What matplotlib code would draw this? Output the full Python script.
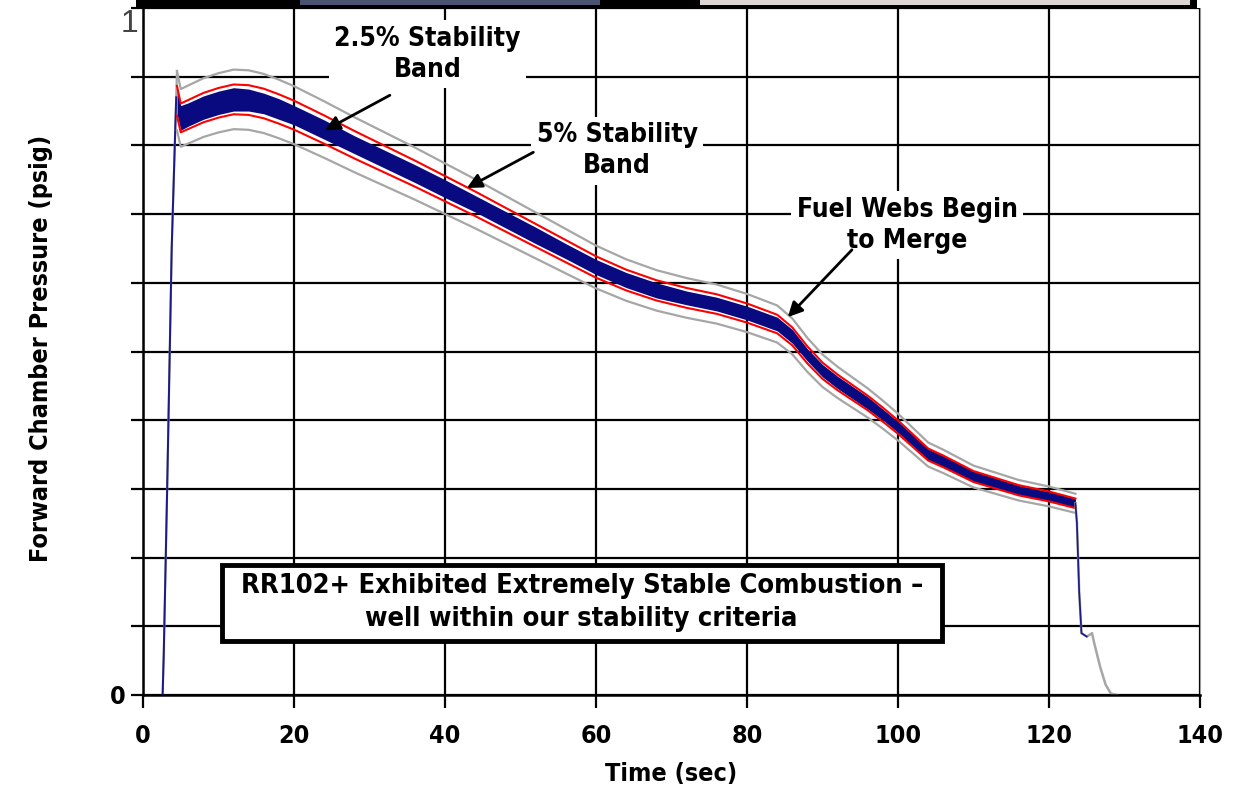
import matplotlib
matplotlib.use("Agg")
import matplotlib.pyplot as plt
from matplotlib.patches import Rectangle
import numpy as np

# start-up rise (sec, normalised pressure)
t_rise = [2.6, 2.75, 3.2, 3.8, 4.4]
p_rise = [0.0, 0.06, 0.30, 0.65, 0.87]

# steady burn: mean pressure trace and half-width of the noisy blue trace
t_burn = [4.5, 5.0, 6, 8, 10, 12, 14, 16, 18, 20, 24, 28, 32, 36, 40, 44, 48,
          52, 56, 60, 64, 68, 72, 76, 80, 84, 86, 88, 90, 92, 94, 96, 98, 100,
          102, 104, 106, 110, 116, 120, 123.5]
p_burn = [0.865, 0.840, 0.845, 0.855, 0.862, 0.867, 0.866, 0.861, 0.853, 0.844,
          0.823, 0.801, 0.780, 0.759, 0.737, 0.715, 0.692, 0.669, 0.646, 0.623,
          0.604, 0.589, 0.578, 0.569, 0.556, 0.540, 0.522, 0.495, 0.472, 0.455,
          0.440, 0.425, 0.408, 0.390, 0.370, 0.350, 0.340, 0.318, 0.298, 0.289,
          0.279]
noise = [0.019, 0.018, 0.017, 0.017, 0.017, 0.017, 0.016, 0.015, 0.015, 0.014,
         0.014, 0.013, 0.013, 0.013, 0.013, 0.012, 0.012, 0.012, 0.011, 0.011,
         0.011, 0.011, 0.010, 0.010, 0.010, 0.010, 0.010, 0.009, 0.009, 0.009,
         0.009, 0.009, 0.008, 0.008, 0.008, 0.008, 0.008, 0.008, 0.007, 0.007,
         0.007]

# tail-off after burnout
t_tail = [123.5, 123.7, 124.0, 124.3, 125.0, 125.7, 126.0, 126.8, 127.5, 128.2, 129.0]
p_tail = [0.279, 0.25, 0.15, 0.09, 0.085, 0.09, 0.075, 0.04, 0.015, 0.002, 0.0]

band_small = 0.025
band_large = 0.05

t_b = np.array(t_burn)
p_b = np.array(p_burn)
n_b = np.array(noise)

F = dict(family='DejaVu Sans', fontstretch='condensed', fontweight='bold')

fig = plt.figure(figsize=(12.47, 7.96), dpi=100)
ax = fig.add_axes([143 / 1247, 1 - 695 / 796, 1057 / 1247, 687 / 796])

ax.set_xlim(0, 140)
ax.set_ylim(0, 1)

# grid
ax.set_xticks(np.arange(0, 141, 20))
ax.set_yticks([0, 1])
ax.set_yticks(np.arange(0.1, 1.0, 0.1), minor=True)
ax.grid(True, which='both', color='black', lw=1.6)
ax.set_axisbelow(True)

# traces
gray = '#a6a6a6'
ax.plot(t_rise + t_burn[:1], p_rise + [p_burn[0] * (1 + band_large)], color=gray, lw=1.6)
ax.plot(t_rise, p_rise, color='#1a1a8a', lw=1.4)
ax.plot(t_b, p_b * (1 + band_large), color=gray, lw=1.6)
ax.plot(t_b, p_b * (1 - band_large), color=gray, lw=1.6)
ax.fill_between(t_b, p_b - n_b, p_b + n_b, color='#0a0a80', lw=0)
ax.plot(t_b, p_b * (1 + band_small), color='red', lw=1.5)
ax.plot(t_b, p_b * (1 - band_small), color='red', lw=1.5)
ax.plot(t_tail, p_tail, color=gray, lw=1.8)
ax.plot(t_tail[:5], p_tail[:5], color='#1a1a8a', lw=1.2)

# axes styling
ax.spines['top'].set_visible(False)
ax.spines['right'].set_color('#9a9a9a')
ax.spines['left'].set_linewidth(1.8)
ax.spines['bottom'].set_linewidth(1.8)
ax.tick_params(axis='both', which='both', direction='out', length=9, width=1.6)
ax.tick_params(axis='x', pad=12)
ax.set_xticklabels([str(v) for v in range(0, 141, 20)], fontsize=18, **F)
ax.set_yticklabels(['0', ''], fontsize=18, **F)
ax.text(-0.6, 0.977, '1', ha='right', va='center', fontsize=23, color='#444444',
        family=['Liberation Sans', 'DejaVu Sans'])

ax.set_xlabel('Time (sec)', fontsize=18, labelpad=10, **F)
ax.set_ylabel('Forward Chamber Pressure (psig)', fontsize=18, **F)
ax.yaxis.set_label_coords(-0.085, 0.505)

# annotations
txt = dict(fontsize=19, ha='center', va='center', linespacing=1.25,
           bbox=dict(fc='white', ec='none', pad=4), **F)
arrow = dict(arrowstyle='-|>', color='black', lw=2, mutation_scale=22, shrinkA=0, shrinkB=0)

ax.text(37.7, 0.933, '2.5% Stability\nBand', **txt)
ax.annotate('', xy=(24.1, 0.822), xytext=(32.7, 0.873), arrowprops=arrow)
ax.text(62.8, 0.792, '5% Stability\nBand', **txt)
ax.annotate('', xy=(42.9, 0.738), xytext=(51.7, 0.790), arrowprops=arrow)
ax.text(101.2, 0.684, 'Fuel Webs Begin\nto Merge', **txt)
ax.annotate('', xy=(85.4, 0.550), xytext=(93.9, 0.648), arrowprops=arrow)

ax.add_patch(Rectangle((10.5, 0.079), 95.3, 0.110, fc='white', ec='black', lw=3.5, zorder=3))
ax.text(58.1, 0.134, 'RR102+ Exhibited Extremely Stable Combustion \u2013\n'
        'well within our stability criteria', fontsize=19.5, ha='center',
        va='center', linespacing=1.35, zorder=4, **F)

# cropped legend strip along the top edge
fig.patches.append(Rectangle((136 / 1247, 1 - 9 / 796), 1061 / 1247, 9 / 796,
                             transform=fig.transFigure, fc='black', ec='none'))
fig.patches.append(Rectangle((300 / 1247, 1 - 5 / 796), 300 / 1247, 5 / 796,
                             transform=fig.transFigure, fc='#4a5470', ec='none'))
fig.patches.append(Rectangle((700 / 1247, 1 - 5 / 796), 490 / 1247, 5 / 796,
                             transform=fig.transFigure, fc='#ddd4d4', ec='none'))

fig.savefig('out.png', dpi=100)
